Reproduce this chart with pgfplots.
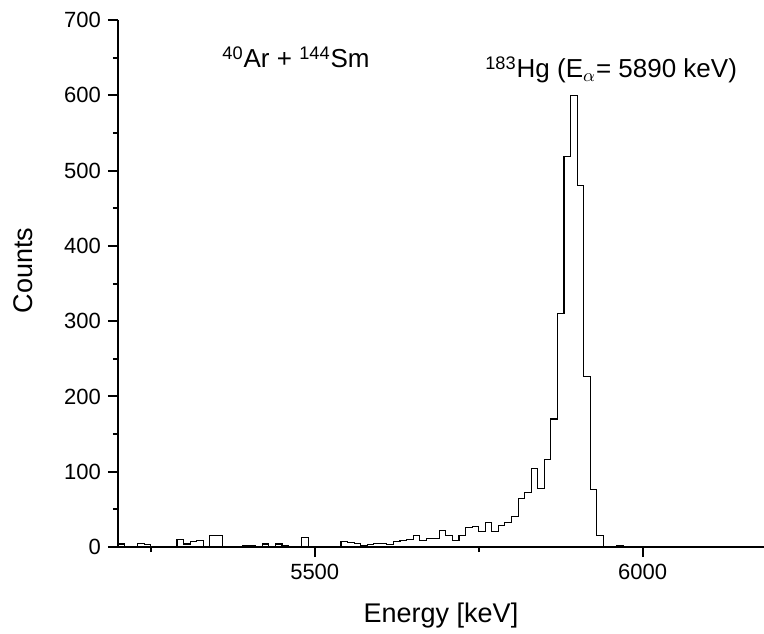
\documentclass[border=0pt]{standalone}
\usepackage{pgfplots}
\pgfplotsset{compat=1.18}
\usepackage{fontspec}
\setmainfont{Liberation Sans}
\begin{document}
\begin{tikzpicture}
\begin{axis}[
  scale only axis,
  width=323pt, height=263.5pt,
  xmin=5200, xmax=6185,
  ymin=0, ymax=700,
  axis x line=bottom, axis y line=left,
  axis line style={-, line width=1pt, black},
  tick align=outside,
  major tick length=5pt, minor tick length=2.5pt,
  tick style={line width=1pt, black},
  xtick={5500,6000}, minor xtick={5250,5750},
  ytick={0,100,...,700}, minor ytick={50,150,...,650},
  /pgf/number format/1000 sep={},
  /pgf/number format/assume math mode=true,
  tick label style={font=\fontsize{11}{13}\selectfont},
  xlabel={Energy [keV]}, ylabel={Counts},
  label style={font=\fontsize{13.5}{15}\selectfont},
  xlabel style={at={(axis description cs:0.5,-0.1423)}, anchor=base},
  ylabel style={at={(axis description cs:-0.1316,0.525)}, anchor=base},
  clip=false,
]
\addplot[const plot mark left, black, line width=0.55pt] coordinates {
(5200,4) (5210,0) (5220,0) (5230,5) (5240,3) (5250,0) (5260,1) (5270,1)
(5280,1) (5290,10) (5300,4) (5310,7) (5320,9) (5330,1) (5340,15) (5350,15)
(5360,1) (5370,0) (5380,0) (5390,2) (5400,2) (5410,1) (5420,4) (5430,0)
(5440,4) (5450,2) (5460,1) (5470,0) (5480,13) (5490,0) (5500,0) (5510,0)
(5520,0) (5530,0) (5540,7) (5550,6) (5560,5) (5570,2) (5580,3) (5590,5)
(5600,5) (5610,3) (5620,7) (5630,9) (5640,10) (5650,15) (5660,9) (5670,11)
(5680,11) (5690,22) (5700,15) (5710,9) (5720,15) (5730,26) (5740,27) (5750,21)
(5760,33) (5770,21) (5780,28) (5790,33) (5800,41) (5810,65) (5820,73) (5830,104)
(5840,78) (5850,116) (5860,170) (5870,310) (5880,519) (5890,600) (5900,480) (5910,226)
(5920,76) (5930,15) (5940,0) (5950,0) (5960,2) (5970,0) (5980,0)
};
\node[anchor=base west, font=\fontsize{13}{15}\selectfont, inner sep=0pt]
  at (rel axis cs:0.161,0.909) {\textsuperscript{40}Ar + \textsuperscript{144}Sm};
\node[anchor=base west, font=\fontsize{13}{15}\selectfont, inner sep=0pt]
  at (rel axis cs:0.568,0.89) {\textsuperscript{183}Hg (E\textsubscript{$\alpha$}= 5890 keV)};
\coordinate (bl) at (rel axis cs:0,0);
\end{axis}
\pgfresetboundingbox
\path[use as bounding box] (bl) ++(-59pt,-43pt) rectangle ++(382pt,316.5pt);
\end{tikzpicture}
\end{document}
